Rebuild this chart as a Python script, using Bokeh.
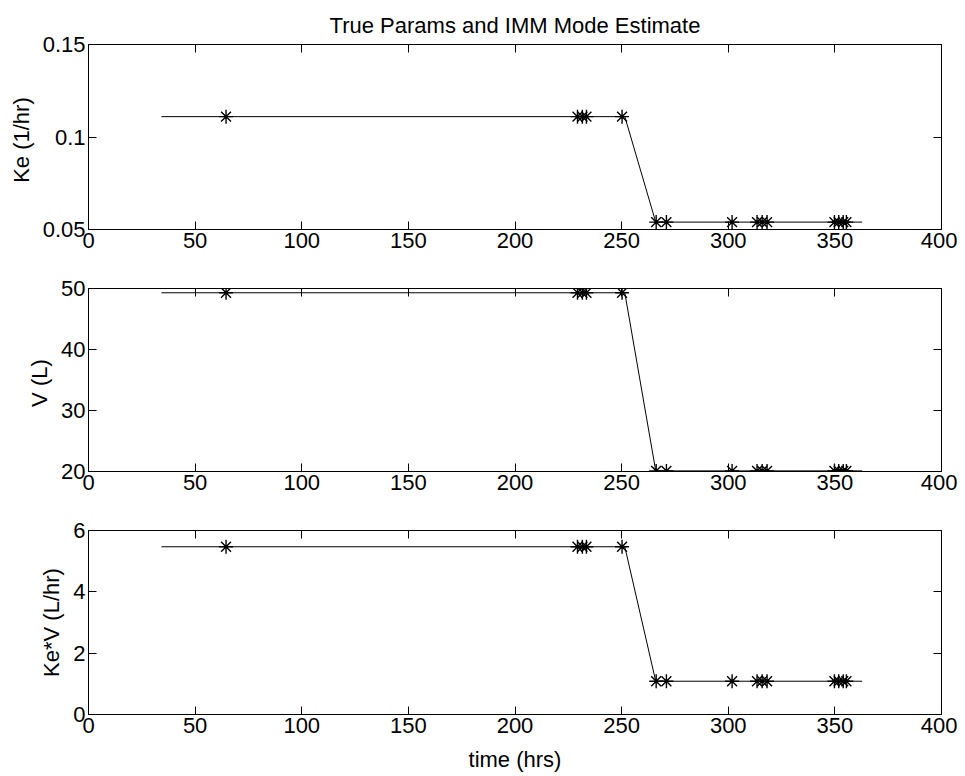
from bokeh.plotting import figure
from bokeh.models import LinearAxis, FixedTicker, Range1d
from bokeh.layouts import column
from bokeh.embed import file_html
from bokeh.resources import INLINE

# ---- data ----
true_t = [34.2, 251.5, 266.0, 362.8]
true_ke = [0.111, 0.111, 0.054, 0.054]
true_v = [49.3, 49.3, 20.1, 20.1]
true_kev = [5.47, 5.47, 1.085, 1.085]

est_t = [64.5, 229.3, 231.6, 233.5, 250.2, 266.2, 271.0, 301.8, 313.5, 315.9,
         318.2, 349.8, 351.8, 353.9, 355.4]
est_ke = [0.111, 0.111, 0.111, 0.111, 0.111, 0.054, 0.054, 0.054, 0.054, 0.054,
          0.054, 0.054, 0.054, 0.054, 0.054]
est_v = [49.3, 49.3, 49.3, 49.3, 49.3, 20.1, 20.1, 20.1, 20.1, 20.1,
         20.1, 20.1, 20.1, 20.1, 20.1]
est_kev = [5.47, 5.47, 5.47, 5.47, 5.47, 1.085, 1.085, 1.085, 1.085, 1.085,
           1.085, 1.085, 1.085, 1.085, 1.085]

x_ticks = [0, 50, 100, 150, 200, 250, 300, 350, 400]
x_tick_labels = ["0", "50", "100", "150", "200", "250", "300", "350", "400"]
ke_ticks = [0.05, 0.1, 0.15]
ke_tick_labels = ["0.05", "0.1", "0.15"]
v_ticks = [20, 30, 40, 50]
v_tick_labels = ["20", "30", "40", "50"]
kev_ticks = [0, 2, 4, 6]
kev_tick_labels = ["0", "2", "4", "6"]

FONT = "Liberation Sans"
FS = "22px"


def style_axis(ax, ticks, labels, show_labels=True):
    ax.ticker = FixedTicker(ticks=ticks)
    ax.major_tick_in = 8
    ax.major_tick_out = 0
    ax.minor_tick_line_color = None
    ax.axis_line_color = "black"
    ax.major_tick_line_color = "black"
    ax.major_label_text_font = FONT
    if show_labels:
        ax.major_label_overrides = dict(zip(ticks, labels))
        ax.major_label_text_color = "black"
        ax.major_label_text_font_size = FS
        ax.major_label_standoff = 3
    else:
        ax.major_label_text_color = None
        ax.major_label_text_font_size = "1px"
        ax.major_label_standoff = 0
    ax.axis_label_text_font = FONT
    ax.axis_label_text_font_size = FS
    ax.axis_label_text_font_style = "normal"
    ax.axis_label_text_color = "black"


def panel(ys_true, ys_est, yr, yticks, ylabels, ylabel, fh, btop, bbot,
          title=None, xlabel=None):
    kw = dict(title=title) if title else {}
    p = figure(frame_width=853, frame_height=fh,
               x_range=Range1d(0, 400), y_range=Range1d(*yr),
               output_backend="svg", toolbar_location=None,
               min_border_left=88, min_border_right=16,
               min_border_top=btop, min_border_bottom=bbot, **kw)
    p.xgrid.visible = False
    p.ygrid.visible = False
    p.outline_line_color = "black"
    p.outline_line_alpha = 1
    p.background_fill_color = "white"
    p.border_fill_color = "white"
    style_axis(p.xaxis[0], x_ticks, x_tick_labels)
    style_axis(p.yaxis[0], yticks, ylabels)
    p.yaxis[0].axis_label = ylabel
    p.yaxis[0].axis_label_standoff = 6
    if xlabel:
        p.xaxis[0].axis_label = xlabel
        p.xaxis[0].axis_label_standoff = 11
    ra = LinearAxis()
    style_axis(ra, yticks, ylabels, show_labels=False)
    p.add_layout(ra, "right")
    ta = LinearAxis()
    style_axis(ta, x_ticks, x_tick_labels, show_labels=False)
    p.add_layout(ta, "above")
    if title:
        p.title.align = "center"
        p.title.vertical_align = "top"
        p.title.text_font = FONT
        p.title.text_font_size = "22px"
        p.title.text_font_style = "normal"
        p.title.text_color = "black"
        p.title.standoff = 10
    p.line(true_t, ys_true, line_color="black", line_width=1)
    p.scatter(est_t, ys_est, marker="asterisk", size=14,
              line_color="black", line_width=1.4)
    return p


p1 = panel(true_ke, est_ke, (0.05, 0.15), ke_ticks, ke_tick_labels,
           "Ke  (1/hr)", 185, 44, 35,
           title="True Params and IMM Mode Estimate")
p2 = panel(true_v, est_v, (20, 50), v_ticks, v_tick_labels,
           "V  (L)", 183, 24, 35)
p3 = panel(true_kev, est_kev, (0, 6), kev_ticks, kev_tick_labels,
           "Ke*V (L/hr)", 184, 24, 62, xlabel="time (hrs)")

layout = column(p1, p2, p3)
open("out.html", "w").write(file_html(layout, INLINE))
